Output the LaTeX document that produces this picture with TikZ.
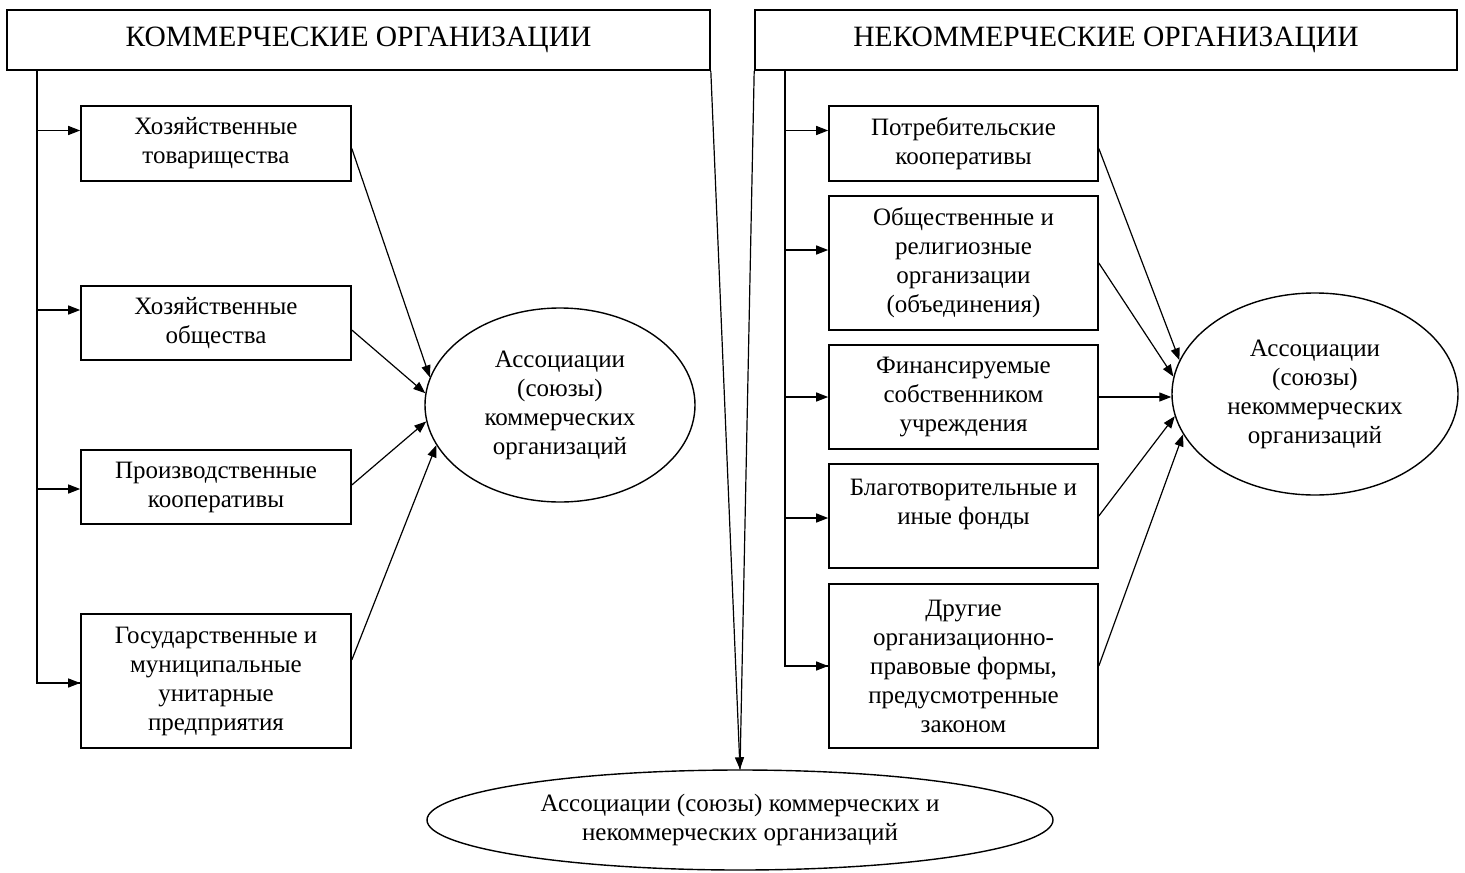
\documentclass[tikz,border=0pt]{standalone}
\usepackage{fontspec}
\setmainfont{Liberation Serif}
\usetikzlibrary{arrows.meta,shapes.geometric,calc}
\begin{document}
\begin{tikzpicture}[x=1pt,y=-1pt,
  hdr/.style={draw,line width=1.6pt,inner sep=0pt,font=\fontsize{29.5}{34}\selectfont},
  box/.style={draw,line width=1.6pt,inner sep=0pt,align=center,font=\fontsize{25}{29}\selectfont},
  ell/.style={draw,ellipse,line width=1.4pt,inner sep=0pt,align=center,font=\fontsize{25}{29}\selectfont},
  con/.style={line width=1.2pt},
  arr/.style={line width=1.2pt,-{Triangle[length=12pt,width=9pt]}}]
\useasboundingbox (0,0) rectangle (1465,873);
% headers
\node[hdr,minimum width=703,minimum height=60] (lh) at (358.5,40) {КОММЕРЧЕСКИЕ ОРГАНИЗАЦИИ};
\node[hdr,minimum width=702,minimum height=60] (rh) at (1106,40) {НЕКОММЕРЧЕСКИЕ ОРГАНИЗАЦИИ};
% left boxes
\node[box,minimum width=270,minimum height=75] (lb1) at (216,143.5) {Хозяйственные\\товарищества};
\node[box,minimum width=270,minimum height=74] (lb2) at (216,323) {Хозяйственные\\общества};
\node[box,minimum width=270,minimum height=74] (lb3) at (216,487) {Производственные\\кооперативы};
\node[box,minimum width=270,minimum height=134] (lb4) at (216,681) {Государственные и\\муниципальные\\унитарные\\предприятия};
% right boxes
\node[box,minimum width=269,minimum height=75] (rb1) at (963.5,143.5) {Потребительские\\кооперативы};
\node[box,minimum width=269,minimum height=134] (rb2) at (963.5,263) {Общественные и\\религиозные\\организации\\(объединения)};
\node[box,minimum width=269,minimum height=104] (rb3) at (963.5,397) {Финансируемые\\собственником\\учреждения};
\node[box,minimum width=269,minimum height=104] (rb4) at (963.5,516) {Благотворительные и\\иные фонды\\\mbox{}};
\node[box,minimum width=269,minimum height=164] (rb5) at (963.5,666) {Другие\\организационно-\\правовые формы,\\предусмотренные\\законом};
% ellipses
\node[ell,minimum width=270,minimum height=194] (lell) at (560,405) {Ассоциации\\(союзы)\\коммерческих\\организаций};
\node[ell,minimum width=286,minimum height=202] (rell) at (1315,394) {Ассоциации\\(союзы)\\некоммерческих\\организаций};
\node[ell,minimum width=626,minimum height=100] (bell) at (740,820) {Ассоциации (союзы) коммерческих и\\некоммерческих организаций};
% trunks
\coordinate (lt) at (37,70);
\coordinate (rt) at (785,70);
\draw[con] (lt) |- ($(lb4.west)+(0,2)$);
\draw[arr] ($(lt |- lb4.west)+(0,2)$) -- ($(lb4.west)+(0,2)$);
\draw[arr] ($(lt |- lb1.west)+(0,-13)$) -- ($(lb1.west)+(0,-13)$);
\draw[arr] ($(lt |- lb2.west)+(0,-13)$) -- ($(lb2.west)+(0,-13)$);
\draw[arr] ($(lt |- lb3.west)+(0,2)$) -- ($(lb3.west)+(0,2)$);
\draw[con] (rt) |- (rb5.west);
\draw[arr] ($(rt |- rb1.west)+(0,-13)$) -- ($(rb1.west)+(0,-13)$);
\draw[arr] ($(rt |- rb2.west)+(0,-13)$) -- ($(rb2.west)+(0,-13)$);
\draw[arr] (rt |- rb3.west) -- (rb3.west);
\draw[arr] ($(rt |- rb4.west)+(0,2)$) -- ($(rb4.west)+(0,2)$);
\draw[arr] (rt |- rb5.west) -- (rb5.west);
% into left ellipse
\draw[arr] ($(lb1.east)+(0,5)$) -- (lell.168);
\draw[arr] ($(lb2.east)+(0,7)$) -- (lell.175);
\draw[arr] ($(lb3.east)+(0,-2)$) -- (lell.187);
\draw[arr] ($(lb4.east)+(0,-21)$) -- (lell.198);
% into right ellipse
\draw[arr] ($(rb1.east)+(0,5)$) -- (rell.166);
\draw[arr] (rb2.east) -- (rell.173);
\draw[arr] (rb3.east) -- (rb3.east -| rell.west);
\draw[arr] (rb4.east) -- (rell.189);
\draw[arr] (rb5.east) -- (rell.197);
% to bottom ellipse
\draw[arr] (lh.south east) -- (bell.north);
\draw[con] (rh.south west) -- (bell.north);
\end{tikzpicture}
\end{document}
